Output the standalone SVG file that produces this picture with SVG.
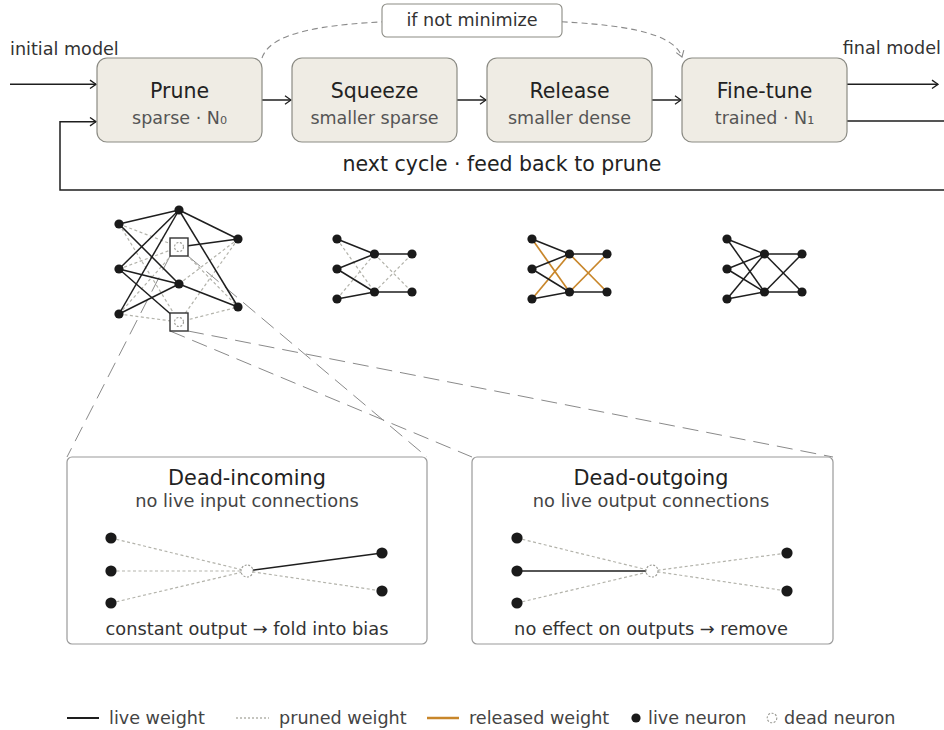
<svg xmlns="http://www.w3.org/2000/svg" width="944" height="730" viewBox="0 0 944 730">
<defs>
<style>
.box{fill:#efece4;stroke:#8b8b84;stroke-width:1.2}
.t{font-family:"DejaVu Sans",sans-serif;font-size:20.5px;fill:#222;text-anchor:middle}
.s{font-family:"DejaVu Sans",sans-serif;font-size:17.5px;fill:#555;text-anchor:middle}
.l{font-family:"DejaVu Sans",sans-serif;font-size:17.6px;fill:#333}
.lg{font-family:"DejaVu Sans",sans-serif;font-size:17.6px;fill:#444}
.dt{font-family:"DejaVu Sans",sans-serif;font-size:20.8px;fill:#222;text-anchor:middle}
.ds{font-family:"DejaVu Sans",sans-serif;font-size:17.8px;fill:#444;text-anchor:middle}
.live{stroke:#1e1e1e;stroke-width:1.5;fill:none}
.pr{stroke:#b3b3ab;stroke-width:1.2;stroke-dasharray:3 2.5;fill:none}
.rel{stroke:#c8862a;stroke-width:1.7;fill:none}
.n{fill:#1a1a1a}
.dead{fill:#fff;stroke:#9a9a94;stroke-width:1.1;stroke-dasharray:2 1.6}
.sq{fill:#fff;stroke:#333;stroke-width:1.4}
.zl{stroke:#8a8a8a;stroke-width:1;stroke-dasharray:16 8;fill:none}
.ar{stroke:#1e1e1e;stroke-width:1.5;fill:none}
.dbox{fill:#fff;stroke:#9a9a9a;stroke-width:1.2}
</style>
<marker id="ah" markerUnits="userSpaceOnUse" markerWidth="10" markerHeight="10" viewBox="0 0 10 10" refX="9" refY="5" orient="auto">
<path d="M3,0.8 L9,5 L3,9.2" fill="none" stroke="#1e1e1e" stroke-width="1.3"/>
</marker>
<marker id="ahg" markerUnits="userSpaceOnUse" markerWidth="10" markerHeight="10" viewBox="0 0 10 10" refX="9" refY="5" orient="auto">
<path d="M3,1 L9,5 L3,9" fill="none" stroke="#8a8a8a" stroke-width="1.1"/>
</marker>
</defs>
<rect width="944" height="730" fill="#fff"/>

<g id="connectors">
<path class="ar" d="M10,84.3 H96" marker-end="url(#ah)"/>
<path class="ar" d="M262,100 H291" marker-end="url(#ah)"/>
<path class="ar" d="M457,100 H486" marker-end="url(#ah)"/>
<path class="ar" d="M652,100 H681" marker-end="url(#ah)"/>
<path class="ar" d="M847,84.3 H938" marker-end="url(#ah)"/>
<path class="ar" d="M847,121 H950 V190 H60 V121.7 H96" marker-end="url(#ah)"/>
<path d="M262,58 C272,28 340,20 472,20 C604,20 672,28 682,57" fill="none" stroke="#8a8a8a" stroke-width="1.1" stroke-dasharray="6 4" marker-end="url(#ahg)"/>
<path class="zl" d="M170,256 L67,457"/>
<path class="zl" d="M188,256 L427,457"/>
<path class="zl" d="M170,331 L472,457"/>
<path class="zl" d="M188,331 L833,457"/>
</g>

<g id="condition">
<rect x="382" y="4" width="180" height="33" rx="5" fill="#fff" stroke="#8b8b84" stroke-width="1.1"/>
<text class="l" x="472" y="26" text-anchor="middle">if not minimize</text>
</g>

<text class="l" x="10" y="55">initial model</text>
<text class="l" x="941" y="54" text-anchor="end">final model</text>
<text class="t" x="502" y="171">next cycle · feed back to prune</text>

<g id="prune">
<rect class="box" x="97" y="58" width="165" height="84" rx="10"/>
<text class="t" x="179.5" y="98">Prune</text>
<text class="s" x="179.5" y="123.5">sparse · N₀</text>
</g>
<g id="squeeze">
<rect class="box" x="292" y="58" width="165" height="84" rx="10"/>
<text class="t" x="374.5" y="98">Squeeze</text>
<text class="s" x="374.5" y="123.5">smaller sparse</text>
</g>
<g id="release">
<rect class="box" x="487" y="58" width="165" height="84" rx="10"/>
<text class="t" x="569.5" y="98">Release</text>
<text class="s" x="569.5" y="123.5">smaller dense</text>
</g>
<g id="finetune">
<rect class="box" x="682" y="58" width="165" height="84" rx="10"/>
<text class="t" x="764.5" y="98">Fine-tune</text>
<text class="s" x="764.5" y="123.5">trained · N₁</text>
</g>

<g id="net-prune">
<g class="pr">
<line x1="119" y1="224" x2="179" y2="247"/>
<line x1="119" y1="269" x2="179" y2="247"/>
<line x1="119" y1="314" x2="179" y2="247"/>
<line x1="119" y1="224" x2="179" y2="322"/>
<line x1="119" y1="314" x2="179" y2="322"/>
<line x1="179" y1="247" x2="238" y2="307"/>
<line x1="179" y1="284" x2="238" y2="239"/>
<line x1="179" y1="322" x2="238" y2="239"/>
<line x1="179" y1="322" x2="238" y2="307"/>
</g>
<g class="live">
<line x1="119" y1="224" x2="179" y2="210"/>
<line x1="119" y1="224" x2="179" y2="284"/>
<line x1="119" y1="269" x2="179" y2="210"/>
<line x1="119" y1="269" x2="179" y2="284"/>
<line x1="119" y1="269" x2="174" y2="317"/>
<line x1="119" y1="314" x2="179" y2="210"/>
<line x1="119" y1="314" x2="179" y2="284"/>
<line x1="179" y1="210" x2="238" y2="239"/>
<line x1="179" y1="210" x2="238" y2="307"/>
<line x1="179" y1="247" x2="238" y2="239"/>
<line x1="179" y1="284" x2="238" y2="307"/>
</g>
<rect class="sq" x="170" y="238" width="18" height="18"/>
<circle class="dead" cx="179" cy="247" r="4.5"/>
<rect class="sq" x="170" y="313" width="18" height="18"/>
<circle class="dead" cx="179" cy="322" r="4.5"/>
<g class="n">
<circle cx="119" cy="224" r="4.6"/><circle cx="119" cy="269" r="4.6"/><circle cx="119" cy="314" r="4.6"/>
<circle cx="179" cy="210" r="4.6"/><circle cx="179" cy="284" r="4.6"/>
<circle cx="238" cy="239" r="4.6"/><circle cx="238" cy="307" r="4.6"/>
</g>
</g>

<g id="net-squeeze">
<g class="pr">
<line x1="337" y1="239" x2="374.5" y2="292"/>
<line x1="337" y1="299" x2="374.5" y2="254"/>
<line x1="374.5" y1="254" x2="412" y2="292"/>
<line x1="374.5" y1="292" x2="412" y2="254"/>
</g>
<g class="live">
<line x1="337" y1="239" x2="374.5" y2="254"/>
<line x1="337" y1="269" x2="374.5" y2="254"/>
<line x1="337" y1="269" x2="374.5" y2="292"/>
<line x1="337" y1="299" x2="374.5" y2="292"/>
<line x1="374.5" y1="254" x2="412" y2="254"/>
<line x1="374.5" y1="292" x2="412" y2="292"/>
</g>
<g class="n">
<circle cx="337" cy="239" r="4.6"/><circle cx="337" cy="269" r="4.6"/><circle cx="337" cy="299" r="4.6"/>
<circle cx="374.5" cy="254" r="4.6"/><circle cx="374.5" cy="292" r="4.6"/>
<circle cx="412" cy="254" r="4.6"/><circle cx="412" cy="292" r="4.6"/>
</g>
</g>

<g id="net-release">
<g class="rel">
<line x1="532" y1="239" x2="569.5" y2="292"/>
<line x1="532" y1="299" x2="569.5" y2="254"/>
<line x1="569.5" y1="254" x2="607" y2="292"/>
<line x1="569.5" y1="292" x2="607" y2="254"/>
</g>
<g class="live">
<line x1="532" y1="239" x2="569.5" y2="254"/>
<line x1="532" y1="269" x2="569.5" y2="254"/>
<line x1="532" y1="269" x2="569.5" y2="292"/>
<line x1="532" y1="299" x2="569.5" y2="292"/>
<line x1="569.5" y1="254" x2="607" y2="254"/>
<line x1="569.5" y1="292" x2="607" y2="292"/>
</g>
<g class="n">
<circle cx="532" cy="239" r="4.6"/><circle cx="532" cy="269" r="4.6"/><circle cx="532" cy="299" r="4.6"/>
<circle cx="569.5" cy="254" r="4.6"/><circle cx="569.5" cy="292" r="4.6"/>
<circle cx="607" cy="254" r="4.6"/><circle cx="607" cy="292" r="4.6"/>
</g>
</g>

<g id="net-finetune">
<g class="live">
<line x1="727" y1="239" x2="764.5" y2="292"/>
<line x1="727" y1="299" x2="764.5" y2="254"/>
<line x1="764.5" y1="254" x2="802" y2="292"/>
<line x1="764.5" y1="292" x2="802" y2="254"/>
<line x1="727" y1="239" x2="764.5" y2="254"/>
<line x1="727" y1="269" x2="764.5" y2="254"/>
<line x1="727" y1="269" x2="764.5" y2="292"/>
<line x1="727" y1="299" x2="764.5" y2="292"/>
<line x1="764.5" y1="254" x2="802" y2="254"/>
<line x1="764.5" y1="292" x2="802" y2="292"/>
</g>
<g class="n">
<circle cx="727" cy="239" r="4.6"/><circle cx="727" cy="269" r="4.6"/><circle cx="727" cy="299" r="4.6"/>
<circle cx="764.5" cy="254" r="4.6"/><circle cx="764.5" cy="292" r="4.6"/>
<circle cx="802" cy="254" r="4.6"/><circle cx="802" cy="292" r="4.6"/>
</g>
</g>

<g id="dead-incoming">
<rect class="dbox" x="67" y="457" width="360" height="187" rx="5"/>
<text class="dt" x="247" y="485">Dead-incoming</text>
<text class="ds" x="247" y="507">no live input connections</text>
<g class="pr">
<line x1="111" y1="538" x2="247" y2="571"/>
<line x1="111" y1="571" x2="247" y2="571"/>
<line x1="111" y1="603" x2="247" y2="571"/>
<line x1="247" y1="571" x2="382" y2="591"/>
</g>
<line class="live" x1="247" y1="571" x2="382" y2="553"/>
<circle class="dead" cx="247" cy="571" r="6"/>
<g class="n">
<circle cx="111" cy="538" r="5.6"/><circle cx="111" cy="571" r="5.6"/><circle cx="111" cy="603" r="5.6"/>
<circle cx="382" cy="553" r="5.6"/><circle cx="382" cy="591" r="5.6"/>
</g>
<text class="ds" x="247" y="635" style="fill:#333">constant output → fold into bias</text>
</g>

<g id="dead-outgoing">
<rect class="dbox" x="472" y="457" width="361" height="187" rx="5"/>
<text class="dt" x="651" y="485">Dead-outgoing</text>
<text class="ds" x="651" y="507">no live output connections</text>
<g class="pr">
<line x1="517" y1="538" x2="652" y2="571"/>
<line x1="517" y1="603" x2="652" y2="571"/>
<line x1="652" y1="571" x2="787" y2="553"/>
<line x1="652" y1="571" x2="787" y2="591"/>
</g>
<line class="live" x1="517" y1="571" x2="652" y2="571"/>
<circle class="dead" cx="652" cy="571" r="6"/>
<g class="n">
<circle cx="517" cy="538" r="5.6"/><circle cx="517" cy="571" r="5.6"/><circle cx="517" cy="603" r="5.6"/>
<circle cx="787" cy="553" r="5.6"/><circle cx="787" cy="591" r="5.6"/>
</g>
<text class="ds" x="651" y="635" style="fill:#333">no effect on outputs → remove</text>
</g>

<g id="legend">
<line x1="67" y1="718" x2="99" y2="718" stroke="#1e1e1e" stroke-width="2"/>
<text class="lg" x="109" y="724">live weight</text>
<line x1="236" y1="718" x2="269" y2="718" stroke="#b3b3ab" stroke-width="1.3" stroke-dasharray="2 2"/>
<text class="lg" x="279" y="724">pruned weight</text>
<line x1="427" y1="718" x2="459" y2="718" stroke="#c8862a" stroke-width="2.5"/>
<text class="lg" x="469" y="724">released weight</text>
<circle cx="636" cy="718" r="4.6" fill="#1a1a1a"/>
<text class="lg" x="648" y="724">live neuron</text>
<circle cx="772" cy="718" r="4.8" fill="#fff" stroke="#9a9a94" stroke-width="1.1" stroke-dasharray="2 1.6"/>
<text class="lg" x="784" y="724">dead neuron</text>
</g>
</svg>
